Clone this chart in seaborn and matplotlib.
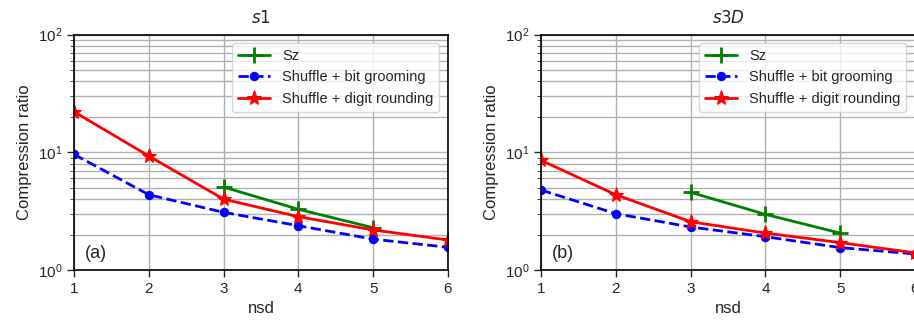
import numpy as np
import pandas as pd
import seaborn as sns
import matplotlib.pyplot as plt

# values
nsd = [1, 2, 3, 4, 5, 6]
nsd_sz = [3, 4, 5]

s1_sz = [5.07, 3.28, 2.29]
s1_bitgroom = [9.6, 4.36, 3.09, 2.38, 1.83, 1.56]
s1_digitround = [22.1, 9.3, 4.0, 2.84, 2.19, 1.80]

s3d_sz = [4.57, 2.97, 2.06]
s3d_bitgroom = [4.78, 3.01, 2.32, 1.92, 1.55, 1.37]
s3d_digitround = [8.54, 4.36, 2.57, 2.06, 1.71, 1.40]

titles = ["$s1$", "$s3D$"]
panel_tags = ["(a)", "(b)"]

sns.set_style("ticks")
plt.rcParams["font.family"] = ["Liberation Sans", "DejaVu Sans"]
plt.rcParams["mathtext.fontset"] = "dejavusans"

fig = plt.figure(figsize=(9.14, 3.23), dpi=100)
ax1 = fig.add_axes([0.081, 0.164, 0.409, 0.729])
ax2 = fig.add_axes([0.592, 0.164, 0.409, 0.729])

panels = [
    (ax1, s1_sz, s1_bitgroom, s1_digitround),
    (ax2, s3d_sz, s3d_bitgroom, s3d_digitround),
]

for i, (ax, sz, bg, dr) in enumerate(panels):
    sns.lineplot(x=nsd_sz, y=sz, ax=ax, color="green", marker="+", markersize=11,
                 markeredgewidth=2, markeredgecolor="green", linewidth=2,
                 label="Sz")
    sns.lineplot(x=nsd, y=bg, ax=ax, color="blue", marker="o", markersize=6,
                 markeredgecolor="blue", linestyle="--", linewidth=2,
                 label="Shuffle + bit grooming")
    sns.lineplot(x=nsd, y=dr, ax=ax, color="red", marker="*", markersize=11,
                 markeredgecolor="red", linewidth=2,
                 label="Shuffle + digit rounding")
    ax.set_yscale("log")
    ax.set_ylim(1, 100)
    ax.set_xlim(1, 6)
    ax.set_xticks(nsd)
    ax.grid(True, which="both", color="#b0b0b0", linewidth=1)
    ax.set_axisbelow(True)
    ax.tick_params(labelsize=11, direction="out", width=1)
    ax.tick_params(which="major", length=5)
    ax.tick_params(which="minor", length=3, left=True)
    ax.set_xlabel("nsd", fontsize=12)
    ax.set_ylabel("Compression ratio", fontsize=12)
    ax.set_title(titles[i], fontsize=12, pad=8)
    ax.text(0.028, 0.05, panel_tags[i], transform=ax.transAxes, fontsize=13)
    for sp in ax.spines.values():
        sp.set_linewidth(1.2)
        sp.set_color("black")
    leg = ax.legend(loc="upper right", fontsize=10.5, framealpha=0.8,
                    borderaxespad=0.6, handlelength=2.2)

fig.savefig("out.png", dpi=100)
